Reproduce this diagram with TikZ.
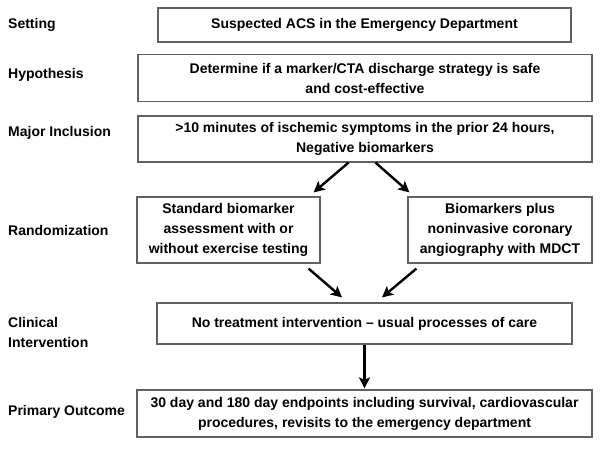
\documentclass[tikz,border=0pt]{standalone}
\usepackage{fontspec}
\setmainfont{Liberation Sans}
\usepackage{xcolor}
\usetikzlibrary{positioning, arrows.meta}
\definecolor{boxgray}{rgb}{0.38, 0.38, 0.38}

\begin{document}
\begin{tikzpicture}[x=1pt, y=-1pt, font=\fontsize{14}{20}\selectfont\bfseries]
\useasboundingbox (0,0) rectangle (600,451);
\tikzstyle{stage}=[draw=boxgray, line width=1.2pt, align=center, inner sep=0pt]
\tikzstyle{lbl}=[anchor=west, align=left, inner sep=0pt]
\tikzstyle{flow}=[line width=2.4pt, -{Stealth[length=11pt, width=11pt, inset=2.5pt]}]
%%
\node (set) at (364.5, 25) [stage, minimum width=413pt, minimum height=34pt] {Suspected ACS in the Emergency Department};
\node (hyp) at (365, 78) [stage, minimum width=454pt, minimum height=47pt] {Determine if a marker/CTA discharge strategy is safe\\and cost-effective};
\node (incl) at (365, 139) [stage, minimum width=454pt, minimum height=46pt] {>10 minutes of ischemic symptoms in the prior 24 hours,\\Negative biomarkers};
\node (std) at (228.5, 230) [stage, minimum width=183pt, minimum height=66pt] {Standard biomarker\\assessment with or\\without exercise testing};
\node (mdct) at (500, 230) [stage, minimum width=184pt, minimum height=66pt] {Biomarkers plus\\noninvasive coronary\\angiography with MDCT};
\node (care) at (364.5, 323.5) [stage, minimum width=415pt, minimum height=41pt] {No treatment intervention -- usual processes of care};
\node (outc) at (364.5, 413.5) [stage, minimum width=455pt, minimum height=47pt] {30 day and 180 day endpoints including survival, cardiovascular\\procedures, revisits to the emergency department};

%% row labels
\node (l1) at (8, 25) [lbl] {Setting};
\node (l2) at (8, 75) [lbl] {Hypothesis};
\node (l3) at (8, 133) [lbl] {Major Inclusion};
\node (l4) at (8, 230) [lbl] {Randomization};
\node (l5) at (8, 332) [lbl] {Clinical\\Intervention};
\node (l6) at (8, 412) [lbl] {Primary Outcome};

\draw [flow] ([xshift=-16.5pt]incl.south) -- ([xshift=-7pt, yshift=4pt]std.north east);
\draw [flow] ([xshift=10.5pt]incl.south) -- ([xshift=2pt, yshift=4pt]mdct.north west);
\draw [flow] ([xshift=-12pt, yshift=-5pt]std.south east) -- ([xshift=-22.5pt, yshift=5pt]care.north);
\draw [flow] ([xshift=9pt, yshift=-5pt]mdct.south west) -- ([xshift=17.5pt, yshift=5pt]care.north);
\draw [flow] (care.south) -- ([yshift=1pt]outc.north);
\end{tikzpicture}
\end{document}
